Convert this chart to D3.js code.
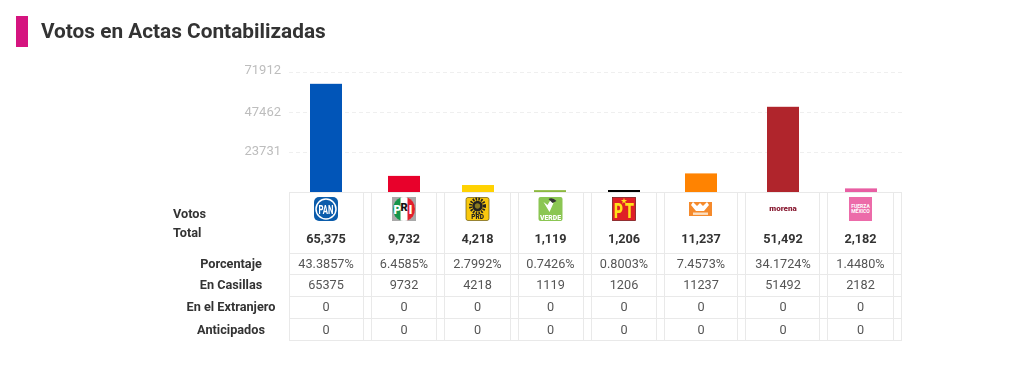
<!DOCTYPE html>
<html>
<head>
<meta charset="utf-8">
<script src="https://cdn.jsdelivr.net/npm/d3@7"></script>
<style>
  html, body { margin: 0; padding: 0; background: #fff; }
  text { font-family: Roboto, sans-serif; }
  svg { opacity: 0.999; }
</style>
</head>
<body>
<svg id="chart" width="1030" height="365"></svg>
<script>
var PARTIES = ['PAN', 'PRI', 'PRD', 'VERDE', 'PT', 'MC', 'MORENA', 'FXM'];
var VOTES = [65375, 9732, 4218, 1119, 1206, 11237, 51492, 2182];
var PERCENTS = ['43.3857%', '6.4585%', '2.7992%', '0.7426%', '0.8003%', '7.4573%', '34.1724%', '1.4480%'];
var CASILLAS = [65375, 9732, 4218, 1119, 1206, 11237, 51492, 2182];
var EXTRANJERO = [0, 0, 0, 0, 0, 0, 0, 0];
var ANTICIPADOS = [0, 0, 0, 0, 0, 0, 0, 0];
var COLORS = ['#0055b8', '#e8002b', '#ffd200', '#8cb83f', '#000000', '#ff8300', '#b0252c', '#e85ea3'];
var Y_TICKS = [23731, 47462, 71912];
var Y_MAX = 71912;
var ROW_LABELS = ['Porcentaje', 'En Casillas', 'En el Extranjero', 'Anticipados'];

var BASE_Y = 192;
var TOP_Y = 73;
var BAR_W = 32;
var GRID_X1 = 289;
var GRID_X2 = 902;
var ROW_LINES = [192.5, 253.5, 274.5, 296.5, 318.5, 340.5];
var COL_LINES = [289.5, 363.5, 371.5, 436.5, 444.5, 510.5, 518.5, 583.5, 591.5, 656.5, 664.5, 737.5, 745.5, 819.5, 827.5, 893.5, 901.5];
var BAR_CENTERS = [326, 404, 478, 550, 624, 701, 783, 861];
var TEXT_CENTERS = [326, 404, 477.5, 550.5, 624, 701, 783, 860.5];
var ROW_Y = [268, 289, 311, 334];
var FONT = '12.7px';

var svg = d3.select('#chart');

var x = d3.scaleOrdinal().domain(PARTIES).range(BAR_CENTERS);
var xText = d3.scaleOrdinal().domain(PARTIES).range(TEXT_CENTERS);
var y = d3.scaleLinear().domain([0, Y_MAX]).range([BASE_Y, TOP_Y]);

// heading
svg.append('rect')
    .attr('x', 16).attr('y', 16)
    .attr('width', 12).attr('height', 31)
    .style('fill', '#d5147f');

svg.append('text')
    .attr('x', 41).attr('y', 38)
    .text('Votos en Actas Contabilizadas')
    .style('font-size', '20.8px')
    .style('font-weight', 700)
    .style('fill', '#333');

// grid + y axis
var yAxis = d3.axisLeft(y).tickValues(Y_TICKS).tickFormat(d3.format('d')).tickSize(0).tickPadding(0);
var axisG = svg.append('g')
    .attr('transform', 'translate(281,-2.5)')
    .call(yAxis);
axisG.select('.domain').remove();
axisG.selectAll('text')
    .attr('y', function(d) { return d == Y_MAX ? -1.5 : 0; })
    .style('font-size', '13px')
    .style('fill', '#bdbdbd');

svg.selectAll('line.grid').data(Y_TICKS).enter()
    .append('line')
    .attr('class', 'grid')
    .attr('x1', GRID_X1).attr('x2', GRID_X2)
    .attr('y1', function(d) { return Math.round(y(d)) - 0.5; })
    .attr('y2', function(d) { return Math.round(y(d)) - 0.5; })
    .style('stroke', '#efefef')
    .style('stroke-dasharray', '4,3');

// bars
svg.selectAll('rect.bar').data(PARTIES).enter()
    .append('rect')
    .attr('class', 'bar')
    .attr('x', function(d) { return x(d) - BAR_W/2; })
    .attr('y', function(d, i) { return y(VOTES[i]); })
    .attr('width', BAR_W)
    .attr('height', function(d, i) { return BASE_Y - y(VOTES[i]); })
    .style('fill', function(d, i) { return COLORS[i]; });

// table lines
svg.selectAll('line.row').data(ROW_LINES).enter()
    .append('line')
    .attr('class', 'row')
    .attr('x1', GRID_X1).attr('x2', GRID_X2)
    .attr('y1', function(d) { return d; }).attr('y2', function(d) { return d; })
    .style('stroke', '#e9e9e9');

svg.selectAll('line.col').data(COL_LINES).enter()
    .append('line')
    .attr('class', 'col')
    .attr('x1', function(d) { return d; }).attr('x2', function(d) { return d; })
    .attr('y1', 192).attr('y2', 341)
    .style('stroke', '#e9e9e9');

// logos
function logoText(g, s, px, py, size, weight, color) {
    return g.append('text').attr('x', px).attr('y', py).attr('text-anchor', 'middle').text(s)
        .style('font-size', size + 'px').style('font-weight', weight).style('fill', color);
}

function drawLogo(party, g) {
    if (party == 'PAN') {
        g.append('rect').attr('x', -12).attr('y', -12).attr('width', 24).attr('height', 24).attr('rx', 5).style('fill', '#0b5cab');
        g.append('circle').attr('r', 10).style('fill', 'none').style('stroke', '#fff').style('stroke-width', 1.5);
        logoText(g, 'PAN', 0, 4.5, 13, 700, '#fff').attr('textLength', 15).attr('lengthAdjust', 'spacingAndGlyphs');
    }
    else if (party == 'PRI') {
        g.append('rect').attr('x', -12).attr('y', -12).attr('width', 24).attr('height', 24).style('fill', '#a9a9a9');
        g.append('ellipse').attr('rx', 10.5).attr('ry', 12).style('fill', '#fff');
        g.append('path').attr('d', 'M-3.5,-11.5A10.5,12 0 0,0 -3.5,11.5Z').style('fill', '#15944a');
        g.append('path').attr('d', 'M3.5,-11.5A10.5,12 0 0,1 3.5,11.5Z').style('fill', '#e2202c');
        logoText(g, 'P', -6.5, 5, 12, 900, '#fff');
        logoText(g, 'R', 0, 2, 11, 900, '#111');
        logoText(g, 'I', 6.5, 5, 12, 900, '#fff');
    }
    else if (party == 'PRD') {
        g.append('rect').attr('x', -11.5).attr('y', -11.5).attr('width', 23).attr('height', 23).attr('rx', 2)
            .style('fill', '#f9c80e').style('stroke', '#6b5a10').style('stroke-width', 0.7);
        g.append('circle').attr('cy', -3).attr('r', 4).style('fill', '#8a7a20').style('stroke', '#222').style('stroke-width', 2.6);
        g.append('circle').attr('cy', -3).attr('r', 7).style('fill', 'none').style('stroke', '#222').style('stroke-width', 3).style('stroke-dasharray', '1.6,1.2');
        logoText(g, 'PRD', 0, 10, 6.5, 900, '#222');
    }
    else if (party == 'VERDE') {
        g.append('rect').attr('x', -12).attr('y', -12).attr('width', 24).attr('height', 24).attr('rx', 2).style('fill', '#8bc653');
        g.append('path').attr('d', 'M-7,-7L-1,3L3,-6L0,-9L-3,-4Z').style('fill', '#fff');
        g.append('path').attr('d', 'M-2,-10Q2,-12 6,-8L2,-6Z').style('fill', '#333');
        logoText(g, 'VERDE', 0, 10.5, 8, 900, '#fff').attr('textLength', 21).attr('lengthAdjust', 'spacingAndGlyphs');
    }
    else if (party == 'PT') {
        g.append('rect').attr('x', -11.5).attr('y', -11.5).attr('width', 23).attr('height', 23)
            .style('fill', '#df1f26').style('stroke', '#7a1a1c').style('stroke-width', 0.8);
        g.append('path').attr('d', d3.symbol().type(d3.symbolStar).size(12)()).attr('transform', 'translate(0,-8)').style('fill', '#ffe11a');
        logoText(g, 'P', -5.5, 9, 20, 900, '#ffe11a').attr('textLength', 9).attr('lengthAdjust', 'spacingAndGlyphs');
        logoText(g, 'T', 5.5, 9, 20, 900, '#ffe11a').attr('textLength', 9).attr('lengthAdjust', 'spacingAndGlyphs');
    }
    else if (party == 'MC') {
        g.append('rect').attr('x', -12).attr('y', -7).attr('width', 23).attr('height', 14).style('fill', '#f58a2c');
        g.append('path').attr('d', 'M-8,-7L-4,-3L-1,-6L2,-3L6,-7L8,-4L3,2L-5,2L-10,-4Z').style('fill', '#fff');
        g.append('rect').attr('x', -8).attr('y', 3.5).attr('width', 15).attr('height', 2.4).style('fill', '#fce0c4');
    }
    else if (party == 'MORENA') {
        logoText(g, 'morena', 0, 2, 8, 900, '#8a1e35');
    }
    else if (party == 'FXM') {
        g.append('rect').attr('x', -11.5).attr('y', -12).attr('width', 23).attr('height', 24).style('fill', '#ec6ba9');
        logoText(g, 'FUERZA', 0, -1.5, 5, 700, '#fff');
        logoText(g, 'MÉXICO', 0, 4, 5, 700, '#fff');
    }
}

PARTIES.forEach(function(p) {
    var g = svg.append('g').attr('transform', 'translate(' + xText(p) + ',209)');
    drawLogo(p, g);
});

// row titles
[['Votos', 218], ['Total', 237]].forEach(function(t) {
    svg.append('text')
        .attr('x', 173).attr('y', t[1])
        .text(t[0])
        .style('font-size', FONT)
        .style('font-weight', 700)
        .style('fill', '#333');
});

svg.selectAll('text.rowLabel').data(ROW_LABELS).enter()
    .append('text')
    .attr('class', 'rowLabel')
    .attr('x', 231)
    .attr('y', function(d, i) { return ROW_Y[i]; })
    .attr('text-anchor', 'middle')
    .text(function(d) { return d; })
    .style('font-size', FONT)
    .style('font-weight', 700)
    .style('fill', '#333');

// table values
var fmt = d3.format(',');
svg.selectAll('text.total').data(VOTES).enter()
    .append('text')
    .attr('class', 'total')
    .attr('x', function(d, i) { return xText(PARTIES[i]); })
    .attr('y', 243)
    .attr('text-anchor', 'middle')
    .text(function(d) { return fmt(d); })
    .style('font-size', FONT)
    .style('font-weight', 700)
    .style('fill', '#333');

[PERCENTS, CASILLAS, EXTRANJERO, ANTICIPADOS].forEach(function(row, r) {
    svg.selectAll('text.cell' + r).data(row).enter()
        .append('text')
        .attr('class', 'cell' + r)
        .attr('x', function(d, i) { return xText(PARTIES[i]); })
        .attr('y', ROW_Y[r])
        .attr('text-anchor', 'middle')
        .text(function(d) { return d; })
        .style('font-size', FONT)
        .style('fill', '#555');
});
</script>
</body>
</html>
